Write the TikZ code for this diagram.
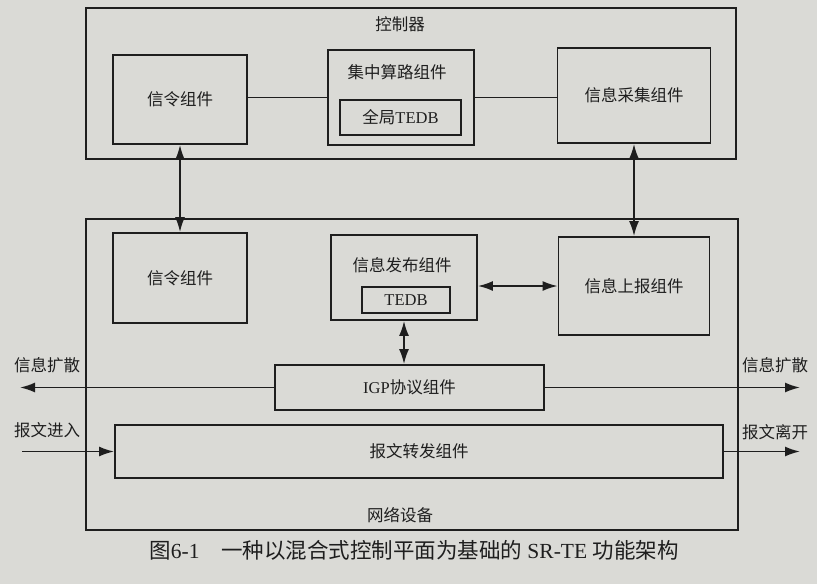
\documentclass[tikz,border=0pt]{standalone}
\usepackage{fontspec}
\setmainfont{Liberation Serif}
\newfontfamily\cjk{Noto Sans CJK SC}
\usetikzlibrary{arrows.meta, positioning, calc}
\definecolor{paper}{RGB}{218,218,214}
\definecolor{ink}{RGB}{30,30,30}

\begin{document}
\begin{tikzpicture}[
      x=1pt, y=-1pt,
      block/.style={rectangle, draw=ink, line width=1.8pt, inner sep=0pt,
                    align=center, text=ink, font=\fontsize{16.5}{19}\selectfont\cjk},
      lbl/.style={inner sep=1pt, text=ink, font=\fontsize{16.5}{19}\selectfont\cjk},
      arrow/.style={-{Latex[length=15pt,width=10pt]}, line width=1.8pt, draw=ink},
      biarrow/.style={{Latex[length=15pt,width=10pt]}-{Latex[length=15pt,width=10pt]}, line width=1.8pt, draw=ink},
      link/.style={line width=1.8pt, draw=ink}
    ]
        \fill[paper] (0,0) rectangle (817,584);
        \useasboundingbox (0,0) rectangle (817,584);
        % controller
        \node[block, minimum width=650pt, minimum height=151pt] (ctrl) at (411,83.5) {};
        \node[lbl] (ctrltitle) at (400,24) {控制器};
        \node[block, minimum width=134pt, minimum height=89pt] (sigtop) at (180,99.5) {信令组件};
        \node[block, minimum width=146pt, minimum height=95pt] (pcomp) at (401,97.5) {};
        \node[lbl] (pcomptitle) at (397,72) {集中算路组件};
        \node[block, minimum width=121pt, minimum height=35pt] (gtedb) at (400.5,117.5) {全局{\rmfamily TEDB}};
        \node[block, minimum width=153pt, minimum height=95pt] (collect) at (634,95.5) {信息采集组件};
        \draw[link] (sigtop.east |- pcomp.west) -- (pcomp.west);
        \draw[link] (pcomp.east) -- (pcomp.east -| collect.west);
        % network device
        \node[block, minimum width=652pt, minimum height=311pt] (netdev) at (412,374.5) {};
        \node[lbl] (netdevtitle) at (400,515) {网络设备};
        \node[block, minimum width=134pt, minimum height=90pt] (siglow) at (180,278) {信令组件};
        \node[block, minimum width=146pt, minimum height=85pt] (publish) at (404,277.5) {};
        \node[lbl] (publishtitle) at (402,265) {信息发布组件};
        \node[block, minimum width=88pt, minimum height=26pt] (tedb) at (406,300) {\rmfamily TEDB};
        \node[block, minimum width=151pt, minimum height=98pt] (report) at (634,286) {信息上报组件};
        \node[block, minimum width=269pt, minimum height=45pt] (igp) at (409.5,387.5) {{\rmfamily IGP}协议组件};
        \node[block, minimum width=608pt, minimum height=53pt] (fwd) at (419,451.5) {报文转发组件};
        \draw[biarrow] (sigtop) -- (siglow);
        \draw[biarrow] (collect) -- (report);
        \draw[biarrow] (publish.east |- report.west) -- (report.west);
        \draw[biarrow] (publish.south) -- (publish.south |- igp.north);
        % flooding and packets
        \coordinate (diffl) at (20,387.5);
        \coordinate (diffr) at (800,387.5);
        \coordinate (pktin) at (22,451.5);
        \coordinate (pktout) at (800,451.5);
        \draw[arrow] (igp.west) -- (diffl);
        \draw[arrow] (igp.east) -- (diffr);
        \draw[arrow] (pktin) -- (fwd.west);
        \draw[arrow] (fwd.east) -- (pktout);
        \node[lbl] (difflabl) at (47,365) {信息扩散};
        \node[lbl] (difflabr) at (775,365) {信息扩散};
        \node[lbl] (pktinlab) at (47,430) {报文进入};
        \node[lbl] (pktoutlab) at (775,432) {报文离开};
        \node[lbl, font=\fontsize{21.5}{24}\selectfont] (caption) at (414,550)
          {{\cjk 图}6-1\quad{\cjk 一种以混合式控制平面为基础的} SR-TE {\cjk 功能架构}};
    \end{tikzpicture}
\end{document}
